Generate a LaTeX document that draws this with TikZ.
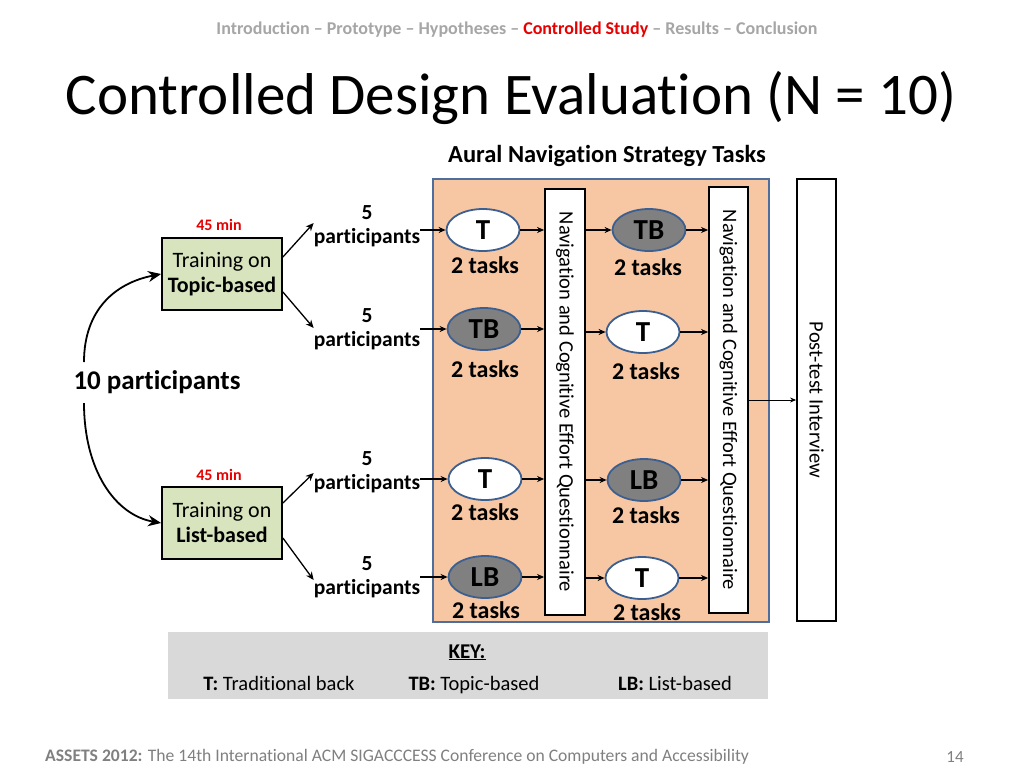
\documentclass[tikz,border=0pt]{standalone}
\usepackage{fontspec}
\setmainfont{Carlito}[Ligatures=NoCommon]
\usetikzlibrary{shapes.geometric,arrows.meta,calc}
\definecolor{peach}{RGB}{247,199,163}
\definecolor{boxblue}{RGB}{80,110,155}
\definecolor{ellblue}{RGB}{60,95,145}
\definecolor{ellgray}{RGB}{128,128,128}
\definecolor{trgreen}{RGB}{215,228,189}
\definecolor{keygray}{RGB}{217,217,217}
\definecolor{hdrgray}{RGB}{166,166,166}
\definecolor{ftgray}{RGB}{128,128,128}
\definecolor{hdrred}{RGB}{230,0,0}
\newcommand{\fs}[1]{\fontsize{#1}{#1}\selectfont}
\begin{document}
\begin{tikzpicture}[x=1pt,y=-1pt,
  ell/.style={ellipse, draw=ellblue, line width=1.8pt, minimum width=73pt, minimum height=42pt, inner sep=0pt, font=\fs{29}\bfseries},
  wht/.style={ell, fill=white},
  gry/.style={ell, fill=ellgray},
  tasks/.style={font=\fs{24}\bfseries, inner sep=0pt},
  parts/.style={font=\fs{21.5}\bfseries, align=center, inner sep=0pt},
  qbox/.style={draw, line width=1.8pt, fill=white, inner sep=0pt, font=\fs{20.5}},
  arr/.style={-{Stealth[length=7pt,width=6pt]}, line width=1.3pt},
  tarr/.style={-{Stealth[length=8pt,width=7pt]}, line width=1.3pt},
  carr/.style={-{Stealth[length=13pt,width=11pt]}, line width=1.8pt},
  trbox/.style={draw, line width=1.8pt, fill=trgreen, minimum width=120pt, minimum height=72pt, align=center, font=\fs{22}},
  mins/.style={text=hdrred, font=\fs{16}\bfseries, inner sep=0pt},
  keyt/.style={font=\fs{20.5}, inner sep=0pt, anchor=base}
]
\useasboundingbox (0,0) rectangle (1024,768);
\fill[white] (0,0) rectangle (1024,768);

% header and title
\node[font=\fs{18}\bfseries, text=hdrgray] (hdr) at (517,30) {Introduction -- Prototype -- Hypotheses -- \textcolor{hdrred}{Controlled Study} -- Results -- Conclusion};
\node[font=\fs{59}] (title) at (511,98) {Controlled Design Evaluation (N = 10)};
\node[font=\fs{24.5}\bfseries] (aural) at (607,156) {Aural Navigation Strategy Tasks};

% orange box
\node[draw=boxblue, line width=1.6pt, fill=peach, minimum width=336pt, minimum height=443pt, inner sep=0pt] (obox) at (601,400.5) {};

% questionnaire boxes
\node[qbox, minimum width=40pt, minimum height=426pt] (q1) at (565,402) {\rotatebox{-90}{Navigation and Cognitive Effort Questionnaire}};
\node[qbox, minimum width=39pt, minimum height=426pt] (q2) at (728.5,400) {\rotatebox{-90}{Navigation and Cognitive Effort Questionnaire}};
\node[qbox, minimum width=39pt, minimum height=442pt] (post) at (816.5,400) {\rotatebox{-90}{Post-test Interview}};

% ellipses column 1
\node[wht] (e11) at (483,230) {T};
\node[gry] (e21) at (484,329) {TB};
\node[wht] (e31) at (485,479) {T};
\node[gry] (e41) at (485,577) {LB};
% ellipses column 2
\node[gry] (e12) at (649,230) {TB};
\node[wht] (e22) at (643,332) {T};
\node[gry] (e32) at (644,480) {LB};
\node[wht] (e42) at (642,578) {T};

% 2 tasks labels
\node[tasks] (t11) at (485,265) {2 tasks};
\node[tasks] (t21) at (485,369) {2 tasks};
\node[tasks] (t31) at (485,512) {2 tasks};
\node[tasks] (t41) at (486,610) {2 tasks};
\node[tasks] (t12) at (648,267) {2 tasks};
\node[tasks] (t22) at (646,371) {2 tasks};
\node[tasks] (t32) at (646,515) {2 tasks};
\node[tasks] (t42) at (647,612) {2 tasks};

% participants
\node[parts] (p1) at (367,226) {5\\[3pt]participants};
\node[parts] (p2) at (367,329) {5\\[3pt]participants};
\node[parts] (p3) at (367,472) {5\\[3pt]participants};
\node[parts] (p4) at (367,577) {5\\[3pt]participants};

% training boxes
\node[trbox] (tr1) at (222,274) {Training on\\[3pt]\textbf{Topic-based}};
\node[trbox] (tr2) at (222,523) {Training on\\[3pt]\textbf{List-based}};
\node[mins] (m1) at (219,225) {45 min};
\node[mins] (m2) at (219,475) {45 min};

% 10 participants
\node[font=\fs{27}\bfseries, inner sep=0pt] (ten) at (157,382) {10 participants};
\coordinate (c1) at (84,362);
\coordinate (c2) at (84,403);
\draw[carr] (c1) .. controls (84,310) and (115,283) .. (tr1.west);
\draw[carr] (c2) .. controls (84,470) and (115,515) .. (tr2.west);

% training to participants
\draw[tarr] ($(tr1.east)+(0,-17)$) -- ($(p1.west)+(0,-3)$);
\draw[tarr] ($(tr1.east)+(0,18)$) -- ($(p2.west)+(0,-1)$);
\draw[tarr] ($(tr2.east)+(0,-20)$) -- ($(p3.west)+(0,1)$);
\draw[tarr] ($(tr2.east)+(0,15)$) -- ($(p4.west)+(0,3)$);

% participants to column 1
\draw[arr] (p1.east |- e11) -- (e11.west);
\draw[arr] (p2.east |- e21) -- (e21.west);
\draw[arr] (p3.east |- e31) -- (e31.west);
\draw[arr] (p4.east |- e41) -- (e41.west);
% column 1 to q1
\draw[arr] (e11.east) -- (e11 -| q1.west);
\draw[arr] (e21.east) -- (e21 -| q1.west);
\draw[arr] (e31.east) -- (e31 -| q1.west);
\draw[arr] (e41.east) -- (e41 -| q1.west);
% q1 to column 2
\draw[arr] (q1.east |- e12) -- (e12.west);
\draw[arr] (q1.east |- e22) -- (e22.west);
\draw[arr] (q1.east |- e32) -- (e32.west);
\draw[arr] (q1.east |- e42) -- (e42.west);
% column 2 to q2
\draw[arr] (e12.east) -- (e12 -| q2.west);
\draw[arr] (e22.east) -- (e22 -| q2.west);
\draw[arr] (e32.east) -- (e32 -| q2.west);
\draw[arr] (e42.east) -- (e42 -| q2.west);
% q2 to post
\draw[-{Stealth[length=6pt,width=5pt]}, line width=0.8pt] (q2.east |- post) -- (post.west);

% key
\node[fill=keygray, minimum width=600pt, minimum height=67pt, inner sep=0pt] (key) at (468,665.5) {};
\node[font=\fs{21}\bfseries, inner sep=0pt, anchor=base] (keyh) at (467,658) {\underline{KEY:}};
\node[keyt] (k1) at (279,690) {\textbf{T:} Traditional back};
\node[keyt] (k2) at (474,690) {\textbf{TB:} Topic-based};
\node[keyt] (k3) at (675,690) {\textbf{LB:} List-based};

% footer
\node[anchor=west, font=\fs{17.6}, text=ftgray, inner sep=0pt] (foot) at (45,757) {\textbf{ASSETS 2012:} The 14th International ACM SIGACCCESS Conference on Computers and Accessibility};
\node[font=\fs{17}, text=ftgray, inner sep=0pt] (pg) at (955,757) {14};
\end{tikzpicture}
\end{document}
